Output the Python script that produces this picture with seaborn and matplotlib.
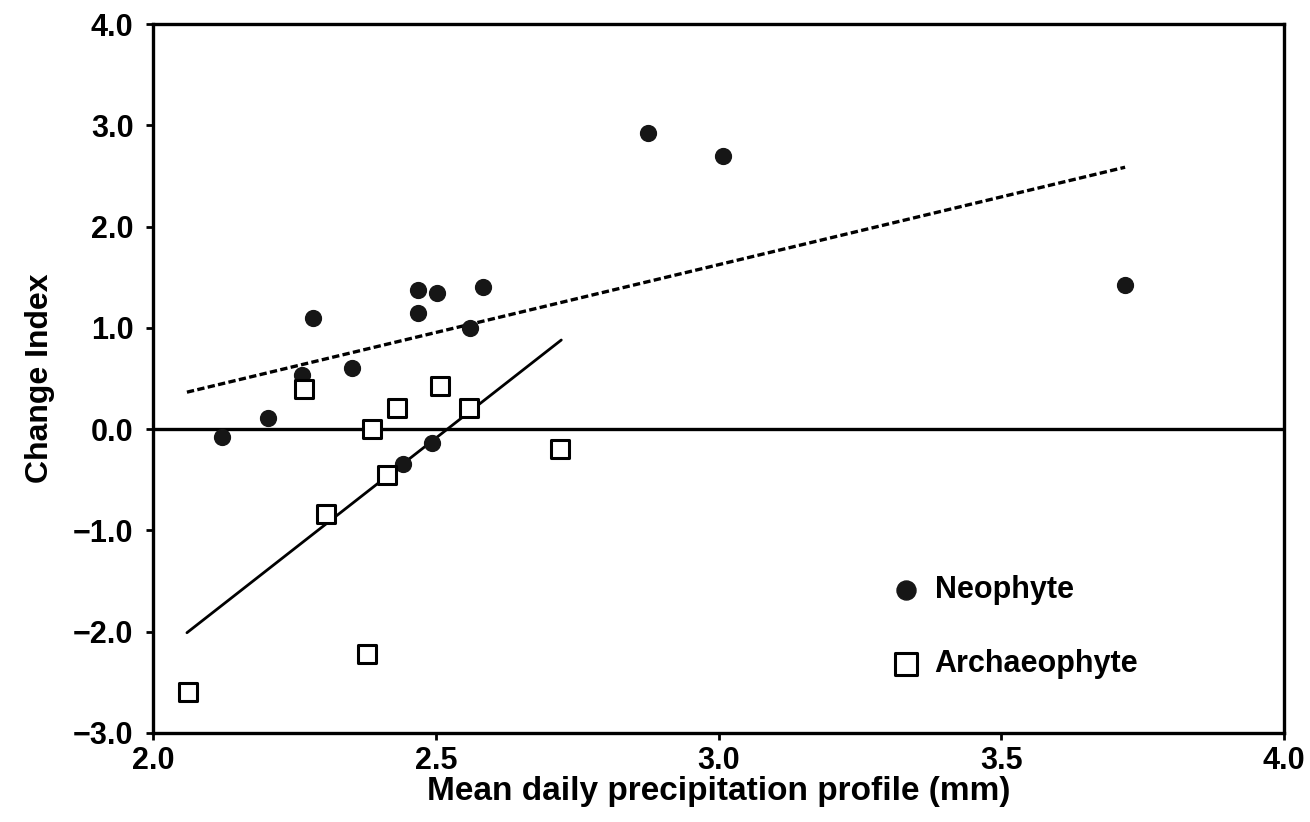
import numpy as np
import pandas as pd
import matplotlib
matplotlib.use("Agg")
import matplotlib.pyplot as plt
from matplotlib.ticker import FuncFormatter
import seaborn as sns

# Neophyte species: mean daily precipitation (mm) vs change index
neo_precip = [2.122, 2.203, 2.283, 2.352, 2.469, 2.502, 2.469, 2.584, 2.561,
              2.263, 2.875, 3.008, 3.719, 2.442, 2.493]
neo_change = [-0.08, 0.11, 1.10, 0.60, 1.37, 1.34, 1.15, 1.40, 1.00,
              0.53, 2.92, 2.70, 1.42, -0.34, -0.14]

# Archaeophyte species
arch_precip = [2.267, 2.387, 2.431, 2.508, 2.559, 2.414, 2.306, 2.720, 2.378, 2.062]
arch_change = [0.40, 0.00, 0.21, 0.43, 0.21, -0.45, -0.84, -0.20, -2.22, -2.60]

# Fitted regression lines (end points)
neo_fit_x = [2.060, 3.719]
neo_fit_y = [0.365, 2.586]
arch_fit_x = [2.060, 2.722]
arch_fit_y = [-2.01, 0.88]

x_ticks = [2.0, 2.5, 3.0, 3.5, 4.0]
y_ticks = [-3.0, -2.0, -1.0, 0.0, 1.0, 2.0, 3.0, 4.0]

sns.set_theme(style="ticks")
plt.rcParams["font.family"] = ["Liberation Sans", "DejaVu Sans"]
plt.rcParams["font.weight"] = "bold"
plt.rcParams["text.color"] = "black"
plt.rcParams["axes.labelcolor"] = "black"

fig = plt.figure(figsize=(13.1, 8.22), dpi=100)
ax = fig.add_axes([153 / 1310, 1 - 733 / 822, (1284 - 153) / 1310, (733 - 24) / 822])

neo = pd.DataFrame({"precip": neo_precip, "change": neo_change})
arch = pd.DataFrame({"precip": arch_precip, "change": arch_change})

# zero reference line
ax.axhline(0, color="black", lw=2.4, zorder=1)

# regression lines
sns.lineplot(x=neo_fit_x, y=neo_fit_y, ax=ax, color="black", lw=2.4,
             linestyle=(0, (2.2, 1.0)), legend=False, zorder=2)
sns.lineplot(x=arch_fit_x, y=arch_fit_y, ax=ax, color="black", lw=2.0,
             legend=False, zorder=2)

sns.scatterplot(data=neo, x="precip", y="change", ax=ax, marker="o", s=130,
                color="#161616", edgecolor="#161616", linewidth=1,
                label="Neophyte", zorder=3)
sns.scatterplot(data=arch, x="precip", y="change", ax=ax, marker="s", s=170,
                facecolor="white", edgecolor="black", linewidth=2.2,
                label="Archaeophyte", zorder=4)

fmt = FuncFormatter(lambda v, _: f"{v:.1f}".replace("-", "\u2212"))
ax.set_xlim(2.0, 4.0)
ax.set_ylim(-3.0, 4.0)
ax.set_xticks(x_ticks)
ax.set_yticks(y_ticks)
ax.xaxis.set_major_formatter(fmt)
ax.yaxis.set_major_formatter(fmt)
ax.tick_params(axis="both", labelsize=22, length=5, width=2, color="black",
               labelcolor="black")
ax.tick_params(axis="y", pad=9)
ax.tick_params(axis="x", pad=4)
for lab in ax.get_xticklabels() + ax.get_yticklabels():
    lab.set_fontweight("bold")

for sp in ax.spines.values():
    sp.set_visible(True)
    sp.set_linewidth(2.4)
    sp.set_color("black")

ax.set_xlabel("Mean daily precipitation profile (mm)", fontsize=24,
              fontweight="bold", labelpad=0)
ax.set_ylabel("Change Index", fontsize=23, fontweight="bold", labelpad=13)

leg = ax.legend(loc="upper left", bbox_to_anchor=(0.637, 0.24), frameon=False,
                fontsize=22, handletextpad=0.3, labelspacing=1.45,
                handlelength=1.3, borderaxespad=0, markerscale=1.2)
for t in leg.get_texts():
    t.set_fontweight("bold")
    t.set_color("black")

fig.savefig("out.png", dpi=100, facecolor="white")
